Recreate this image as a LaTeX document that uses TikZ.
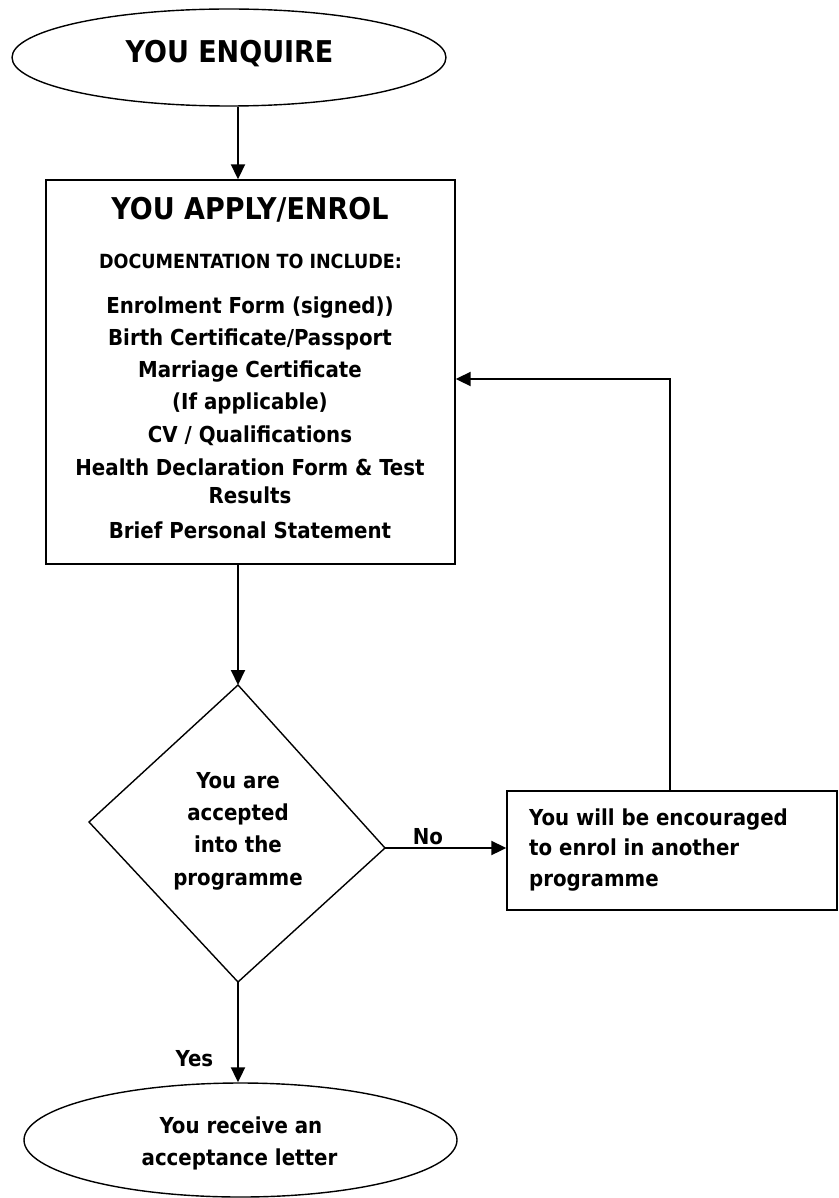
\documentclass[tikz,border=0pt]{standalone}
\usepackage{fontspec}
\IfFontExistsTF{DejaVu Sans Condensed}{\setmainfont{DejaVu Sans Condensed}}{\setmainfont{DejaVu Sans}}
\usetikzlibrary{shapes.geometric,arrows.meta}
\begin{document}
\begin{tikzpicture}[x=1pt,y=-1pt,
  shape line/.style={draw=black,line width=1.4pt},
  conn/.style={draw=black,line width=2pt,-{Triangle[length=15pt,width=14pt]}},
  body/.style={inner sep=0pt,anchor=base,font=\fontsize{22}{32}\selectfont\bfseries},
  big/.style={inner sep=0pt,anchor=base,font=\fontsize{30}{36}\selectfont\bfseries},
  small/.style={inner sep=0pt,anchor=base,font=\fontsize{19.5}{24}\selectfont\bfseries}]
\useasboundingbox (0,0) rectangle (838,1198);
\fill[white] (0,0) rectangle (838,1198);

% shapes
\node[shape line,ellipse,inner sep=0pt,minimum width=434pt,minimum height=97pt] (enq) at (229,57.5) {};
\node[big] (enqt) at (229.5,63) {YOU ENQUIRE};

\node[shape line,rectangle,inner sep=0pt,minimum width=409pt,minimum height=384pt] (box) at (250.5,372) {};
\node[big] (boxt) at (250,220) {YOU APPLY/ENROL};
\node[small] (doc) at (250.5,269) {DOCUMENTATION TO INCLUDE:};
\node[body] (l1) at (250,313) {Enrolment Form (signed))};
\node[body] (l2) at (250,345) {Birth Certificate/Passport};
\node[body] (l3) at (250,377) {Marriage Certificate};
\node[body] (l4) at (250,409) {(If applicable)};
\node[body] (l5) at (250,442) {CV / Qualifications};
\node[body] (l6) at (250,475) {Health Declaration Form \& Test};
\node[body] (l7) at (250,503) {Results};
\node[body] (l8) at (250,538) {Brief Personal Statement};

\coordinate (dtop) at (238,685);
\coordinate (dleft) at (89,822);
\coordinate (dright) at (385,848);
\coordinate (dbot) at (238,982);
\draw[shape line,line join=miter] (dtop) -- (dright) -- (dbot) -- (dleft) -- cycle;
\node[body] (q1) at (238,788) {You are};
\node[body] (q2) at (238,820) {accepted};
\node[body] (q3) at (238,852) {into the};
\node[body] (q4) at (238,885) {programme};

\node[shape line,rectangle,inner sep=0pt,minimum width=330pt,minimum height=119pt] (rbox) at (672,850.5) {};
\node[body,anchor=base west] (r1) at (529,825) {You will be encouraged};
\node[body,anchor=base west] (r2) at (529,855) {to enrol in another};
\node[body,anchor=base west] (r3) at (529,886) {programme};

\node[shape line,ellipse,inner sep=0pt,minimum width=433pt,minimum height=114pt] (acc) at (240.5,1140) {};
\node[body] (a1) at (241,1133) {You receive an};
\node[body] (a2) at (239.5,1165) {acceptance letter};

% labels
\node[body] (no) at (428,844) {No};
\node[body] (yes) at (194.5,1066) {Yes};

% connectors
\coordinate (fb) at (670,379);
\draw[conn] (enq.south -| dtop) -- (box.north -| dtop);
\draw[conn] (box.south -| dtop) -- (dtop);
\draw[conn] (dright) -- (rbox.west |- dright);
\draw[conn] (rbox.north -| fb) |- (box.east |- fb);
\draw[conn] (dbot) -- (acc.north -| dbot);
\end{tikzpicture}
\end{document}
